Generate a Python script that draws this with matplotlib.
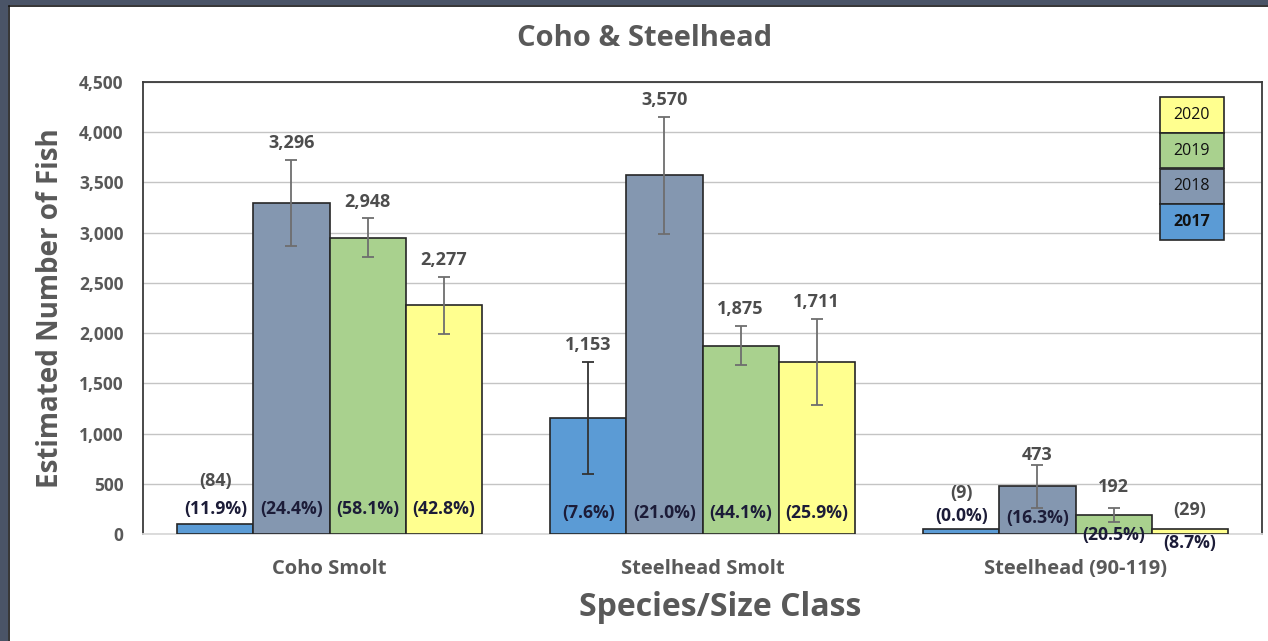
import matplotlib
matplotlib.use("Agg")
import matplotlib.pyplot as plt
from matplotlib.patches import Rectangle
import numpy as np

plt.rcParams['font.family'] = ['Open Sans', 'DejaVu Sans']

categories = ["Coho Smolt", "Steelhead Smolt", "Steelhead (90-119)"]
years = ["2017", "2018", "2019", "2020"]

# bar heights, per year (across categories)
est_2017 = [95, 1153, 50]
est_2018 = [3296, 3570, 473]
est_2019 = [2948, 1875, 192]
est_2020 = [2277, 1711, 50]

# error half-widths (None = no error bar)
err_2017 = [None, 560, None]
err_2018 = [430, 585, 215]
err_2019 = [195, 195, 70]
err_2020 = [285, 430, None]

# value labels and percent labels
val_2017 = ["(84)", "1,153", "(9)"]
val_2018 = ["3,296", "3,570", "473"]
val_2019 = ["2,948", "1,875", "192"]
val_2020 = ["2,277", "1,711", "(29)"]

pct_2017 = ["(11.9%)", "(7.6%)", "(0.0%)"]
pct_2018 = ["(24.4%)", "(21.0%)", "(16.3%)"]
pct_2019 = ["(58.1%)", "(44.1%)", "(20.5%)"]
pct_2020 = ["(42.8%)", "(25.9%)", "(8.7%)"]

yticks = [0, 500, 1000, 1500, 2000, 2500, 3000, 3500, 4000, 4500]

colors = ["#5B9BD5", "#8497B0", "#A9D18E", "#FFFF8F"]
err_colors = ["#333333", "#6e6e6e", "#6e6e6e", "#6e6e6e"]

ests = [est_2017, est_2018, est_2019, est_2020]
errs = [err_2017, err_2018, err_2019, err_2020]
vals = [val_2017, val_2018, val_2019, val_2020]
pcts = [pct_2017, pct_2018, pct_2019, pct_2020]

W, H = 1268, 641
fig = plt.figure(figsize=(W / 100, H / 100), dpi=100)
fig.patch.set_facecolor("white")

# dark frame at left/top
fig.patches.append(Rectangle((0, 0), 8 / W, 1, transform=fig.transFigure,
                             facecolor="#4A5467", edgecolor="none", zorder=0))
fig.patches.append(Rectangle((0, 1 - 5 / H), 1, 5 / H, transform=fig.transFigure,
                             facecolor="#4A5467", edgecolor="none", zorder=0))
fig.add_artist(plt.Line2D([8.5 / W, 8.5 / W], [0, 1 - 5.5 / H], transform=fig.transFigure,
                          color="#111111", lw=1.2))
fig.add_artist(plt.Line2D([8.5 / W, 1], [1 - 5.5 / H, 1 - 5.5 / H], transform=fig.transFigure,
                          color="#111111", lw=1.2))

ax = fig.add_axes([143 / W, (H - 534) / H, 1119 / W, 452 / H])

x = np.arange(len(categories))
w = 0.204
offsets = [-1.5 * w, -0.5 * w, 0.5 * w, 1.5 * w]

val_color = "#4d4d4d"
pct_color = "#1c1c38"
val_fs = 13
pct_fs = 12.7

for i in range(4):
    xs = x + offsets[i]
    ax.bar(xs, ests[i], width=w, color=colors[i], edgecolor="#262626",
           linewidth=1.2, zorder=3)
    for j in range(len(categories)):
        e = errs[i][j]
        if e is not None:
            ax.errorbar(xs[j], ests[i][j], yerr=e, fmt="none", ecolor=err_colors[i],
                        elinewidth=1.3, capsize=4, capthick=1.3, zorder=4)

# value labels
special_val = {(0, 0): 525, (0, 2): 410, (1, 2): 790, (2, 2): 470, (3, 2): 240}
special_pct = {(0, 2): 180, (1, 2): 160, (2, 2): -10, (3, 2): -90}
for i in range(4):
    xs = x + offsets[i]
    for j in range(len(categories)):
        e = errs[i][j]
        if (i, j) in special_val:
            ax.text(xs[j], special_val[(i, j)], vals[i][j], ha="center", va="center",
                    fontsize=val_fs, fontweight="bold", color=val_color, zorder=5,
                    clip_on=False)
        else:
            top = ests[i][j] + (e if e is not None else 0)
            ax.annotate(vals[i][j], (xs[j], top), xytext=(0, 12), textcoords="offset points",
                        ha="center", va="center", fontsize=val_fs, fontweight="bold",
                        color=val_color, zorder=5)
        py = special_pct.get((i, j), 245 if j == 0 else 205)
        ax.text(xs[j], py, pcts[i][j], ha="center", va="center", fontsize=pct_fs,
                fontweight="bold", color=pct_color, zorder=5, clip_on=False)

ax.set_xlim(-0.5, len(categories) - 0.5)
ax.set_ylim(0, 4500)
ax.set_yticks(yticks)
ax.set_yticklabels([f"{v:,}" for v in yticks])
ax.set_xticks(x)
ax.set_xticklabels(categories)
ax.tick_params(axis="both", length=0, labelcolor="#595959")
ax.tick_params(axis="y", pad=14, labelsize=12.5)
ax.tick_params(axis="x", pad=18, labelsize=14.5)
for lab in ax.get_xticklabels() + ax.get_yticklabels():
    lab.set_fontweight("bold")

ax.grid(axis="y", color="#C4C4C4", linewidth=1.0, zorder=0)
ax.set_axisbelow(True)
for s in ["left", "top", "right"]:
    ax.spines[s].set_color("#3a3a3a")
    ax.spines[s].set_linewidth(1.3)
ax.spines["bottom"].set_color("#D9D9D9")
ax.spines["bottom"].set_linewidth(1.3)

ax.set_ylabel("Estimated Number of Fish", fontsize=20, fontweight="bold",
              color="#595959", labelpad=10)
ax.set_xlabel("Species/Size Class", fontsize=23, fontweight="bold",
              color="#595959")
ax.xaxis.label.set_va("center")
ax.xaxis.set_label_coords((720 - 143) / 1119, (534 - 607) / 452)
fig.text(645 / W, 1 - 39 / H, "Coho & Steelhead", ha="center", va="center",
         fontsize=21, fontweight="bold", color="#595959")

# legend drawn as stacked boxes (top: 2020 ... bottom: 2017)
lx0, lx1 = 1160, 1224
ly_top = 97
row_h = 35.75
for k, i in enumerate([3, 2, 1, 0]):
    y0 = ly_top + k * row_h
    fig.patches.append(Rectangle((lx0 / W, 1 - (y0 + row_h) / H), (lx1 - lx0) / W, row_h / H,
                                 transform=fig.transFigure, facecolor=colors[i],
                                 edgecolor="#262626", linewidth=1.2, zorder=6))
    fig.text((lx0 + lx1) / 2 / W, 1 - (y0 + row_h / 2) / H, years[i], ha="center",
             va="center", fontsize=11.5, color="#111111",
             fontweight="bold" if i == 0 else "normal", zorder=7)

fig.savefig("out.png", dpi=100)
